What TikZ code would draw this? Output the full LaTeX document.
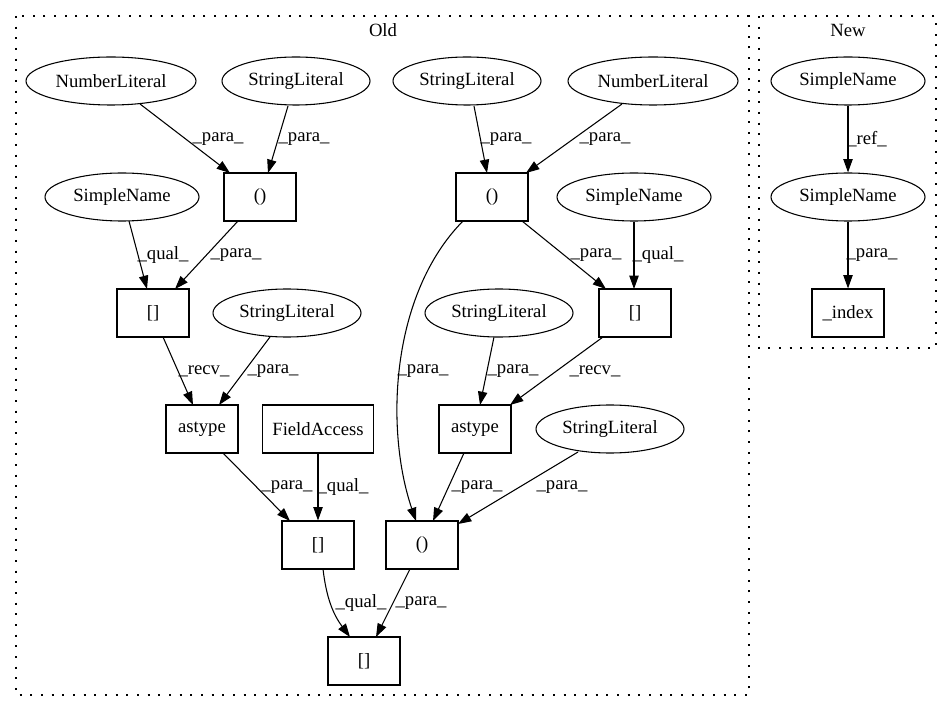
\documentclass[tikz,border=0pt]{standalone}
\usepackage{fontspec}
\setmainfont{Liberation Serif}
\usetikzlibrary{shapes.geometric,arrows.meta,calc}
\begin{document}
\begin{tikzpicture}[x=0.75pt,y=-0.75pt,
  every node/.style={font=\fontsize{14pt}{16pt}\selectfont},
  ell/.style={draw,ellipse,line width=0.8pt,inner sep=0pt,minimum height=36pt},
  nl/.style={ell,minimum width=127.5pt},
  sl/.style={ell,minimum width=111pt},
  sn/.style={ell,minimum width=115.5pt},
  bx/.style={draw,rectangle,line width=0.8pt,inner sep=0pt,minimum width=54pt,minimum height=36pt},
  lbl/.style={inner sep=0pt},
  edge/.style={line width=0.8pt,-{Triangle[length=10pt,width=7pt]}},
  cluster/.style={line width=0.8pt,dash pattern=on 1.5pt off 6.5pt}
]
\useasboundingbox (0,0) rectangle (952,712);
% clusters
\draw[cluster] (16,16) rectangle (749,695);
\draw[cluster] (759,16) rectangle (936,348);
\node (oldlbl) at (383,30) {Old};
\node (newlbl) at (848,30) {New};

% Old nodes
\node[nl] (nlA) at (111,81) {NumberLiteral};
\node[sl] (slA) at (296,81) {StringLiteral};
\node[sl] (slB) at (467,81) {StringLiteral};
\node[nl] (nlB) at (653,81) {NumberLiteral};
\node[bx] (cA) at (260,197) {()};
\node[sn] (snA) at (122,197) {SimpleName};
\node[bx] (cB) at (492,197) {()};
\node[sn] (snB) at (634,197) {SimpleName};
\node[bx] (iA) at (153,313) {[]};
\node[sl] (slC) at (287,313) {StringLiteral};
\node[sl] (slD) at (499,313) {StringLiteral};
\node[bx] (iB) at (635,313) {[]};
\node[bx] (atA) at (202,429) {astype};
\node[bx,minimum width=83.25pt] (fa) at (318,429) {FieldAccess};
\node[bx] (atB) at (475,429) {astype};
\node[sl] (slE) at (610,429) {StringLiteral};
\node[bx] (iC) at (318,545) {[]};
\node[bx] (cC) at (422,545) {()};
\node[bx] (iD) at (364,661) {[]};

% New nodes
\node[sn] (snC) at (848,81) {SimpleName};
\node[sn] (snD) at (848,197) {SimpleName};
\node[bx] (idx) at (848,313) {\_index};

% Old edges
\draw[edge] ($(nlA)+(29,23)$) -- ($(cA)+(-30,-24)$);
\draw[edge] ($(slA)+(-8,25)$) -- ($(cA)+(8,-24)$);
\draw[edge] ($(snA)+(7,24)$) -- ($(iA)+(-6,-24)$);
\draw[edge] ($(cA)+(-22,24)$) -- ($(iA)+(22,-24)$);
\draw[edge] ($(iA)+(10,24)$) -- ($(atA)+(-9,-24)$);
\draw[edge] ($(slC)+(-17,24)$) -- ($(atA)+(17,-24)$);
\draw[edge] ($(atA)+(21,24)$) -- ($(iC)+(-28,-24)$);
\draw[edge] (fa.south) -- (iC.north);
\draw[edge] ($(iC)+(5,24)$) to[bend right=15] ($(iD)+(-14,-24)$);
\draw[edge] ($(cC)+(-12,24)$) -- ($(iD)+(12,-24)$);
\draw[edge] ($(slB)+(7,25)$) -- ($(cB)+(-5,-24)$);
\draw[edge] ($(nlB)+(-31,23)$) -- ($(cB)+(34,-24)$);
\draw[edge] ($(cB)+(30,24)$) -- ($(iB)+(-29,-24)$);
\draw[edge] (snB.south) -- ($(iB)+(-1,-24)$);
\draw[edge] ($(cB)+(-29,24)$) .. controls (390,295) and (385,430) .. ($(cC)+(-6,-24)$);
\draw[edge] ($(slD)+(-5,24)$) -- ($(atB)+(5,-24)$);
\draw[edge] ($(iB)+(-32,24)$) -- ($(atB)+(35,-24)$);
\draw[edge] ($(atB)+(-11,24)$) -- ($(cC)+(11,-24)$);
\draw[edge] ($(slE)+(-32,23)$) -- ($(cC)+(36,-21)$);

% New edges
\draw[edge] (snC.south) -- (snD.north);
\draw[edge] (snD.south) -- (idx.north);

% labels
\node[lbl] (l1) at (218,139) {\_para\_};
\node[lbl] (l2) at (304,139) {\_para\_};
\node[lbl] (l3) at (163,255) {\_qual\_};
\node[lbl] (l4) at (236,255) {\_para\_};
\node[lbl] (l5) at (204,371) {\_recv\_};
\node[lbl] (l6) at (273,371) {\_para\_};
\node[lbl] (l7) at (287,487) {\_para\_};
\node[lbl] (l8) at (343,487) {\_qual\_};
\node[lbl] (l9) at (361,603) {\_qual\_};
\node[lbl] (l10) at (421,603) {\_para\_};
\node[lbl] (l11) at (506,139) {\_para\_};
\node[lbl] (l12) at (605,139) {\_para\_};
\node[lbl] (l13) at (596,255) {\_para\_};
\node[lbl] (l14) at (658,255) {\_qual\_};
\node[lbl] (l15) at (423,371) {\_para\_};
\node[lbl] (l16) at (513,371) {\_para\_};
\node[lbl] (l17) at (595,371) {\_recv\_};
\node[lbl] (l18) at (477,487) {\_para\_};
\node[lbl] (l19) at (562,487) {\_para\_};
\node[lbl] (l20) at (867,139) {\_ref\_};
\node[lbl] (l21) at (872,255) {\_para\_};
\end{tikzpicture}
\end{document}
